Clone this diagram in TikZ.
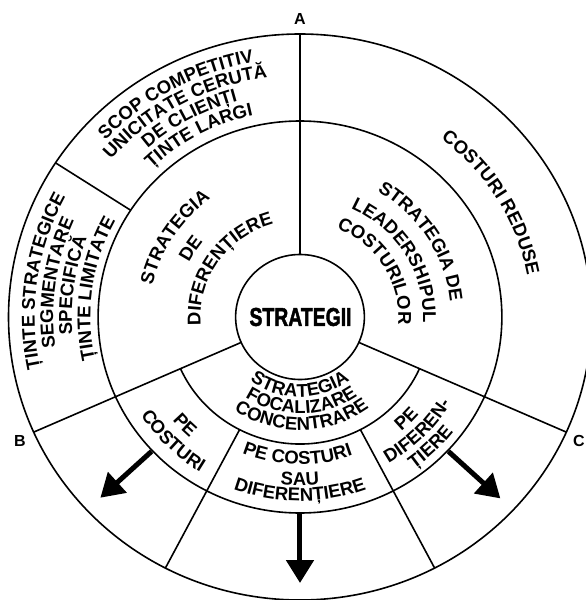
\documentclass[tikz,border=0pt]{standalone}
\usepackage{fontspec}
\usepackage{graphicx}
\setmainfont{Liberation Sans}
\newfontfamily\arcfont{Liberation Sans Bold}
\newfontfamily\heavyfont{Liberation Sans Bold}[FakeBold=2]
\usetikzlibrary{decorations.text,arrows.meta}
\newcommand\lbl{\arcfont\fontsize{18.5}{18.5}\selectfont}
\tikzset{
  ring/.style={line width=1.6pt},
  divider/.style={line width=1.6pt},
  bigarrow/.style={line width=5pt,-{Triangle[length=23pt,width=27pt]}},
  corner/.style={font=\fontsize{16}{16}\selectfont\bfseries,inner sep=0pt},
}
% text on a concentric arc, read clockwise (letter tops outward)
\newcommand\cwline[3]{\path[decorate,decoration={text along path,text align=center,text={|\lbl|#3}}]
  ({#1+70}:#2) arc[start angle={#1+70},end angle={#1-70},radius=#2];}
% text on a concentric arc, read counter-clockwise (letter tops inward)
\newcommand\ccwline[3]{\path[decorate,decoration={text along path,text align=center,text={|\lbl|#3}}]
  ({#1-70}:#2) arc[start angle={#1-70},end angle={#1+70},radius=#2];}
\begin{document}
\begin{tikzpicture}[x=1.03pt,y=1pt]
\fill[white] (-300pt,-283pt) rectangle (286pt,317pt);
\useasboundingbox (-300pt,-283pt) rectangle (286pt,317pt);

% radii: outer 283, middle 196, focus ring 127, core 62.5
\coordinate (O) at (0,0);
\draw[ring] (O) circle[radius=283];
\draw[ring] (O) circle[radius=196];
\draw[ring] (O) circle[radius=62.5];
\draw[ring] (204:127) arc[start angle=204,end angle=336,radius=127];

% radial dividers
\coordinate (a0) at (90:62.5);   \coordinate (a1) at (90:283);
\coordinate (b0) at (204:62.5);  \coordinate (b1) at (204:283);
\coordinate (c0) at (336:62.5);  \coordinate (c1) at (336:283);
\coordinate (d0) at (147:196);   \coordinate (d1) at (147:283);
\coordinate (e0) at (242.5:127); \coordinate (e1) at (242.5:283);
\coordinate (f0) at (297.5:127); \coordinate (f1) at (297.5:283);
\draw[divider] (a0) -- (a1);
\draw[divider] (b0) -- (b1);
\draw[divider] (c0) -- (c1);
\draw[divider] (d0) -- (d1);
\draw[divider] (e0) -- (e1);
\draw[divider] (f0) -- (f1);

% arrows leaving the focus sectors
\coordinate (p0) at (223:197); \coordinate (p1) at (223:265);
\coordinate (q0) at (270:196); \coordinate (q1) at (270:266);
\coordinate (r0) at (317:197); \coordinate (r1) at (317:266);
\draw[bigarrow] (p0) -- (p1);
\draw[bigarrow] (q0) -- (q1);
\draw[bigarrow] (r0) -- (r1);

% centre
\node[inner sep=0pt] (core) at (0.5,0) {\resizebox{102pt}{18pt}{\heavyfont STRATEGII}};

% corner letters
\node[corner] (A) at (0pt,298pt) {A};
\node[corner] (B) at (-280pt,-124pt) {B};
\node[corner] (C) at (279pt,-124pt) {C};

% cost leadership
\cwline{32}{146.5}{STRATEGIA DE}
\cwline{31}{119.5}{LEADERSHIPUL}
\cwline{31.5}{95.5}{COSTURILOR}
\cwline{31}{224.5}{COSTURI REDUSE}
% differentiation
\cwline{147.5}{146.5}{STRATEGIA}
\cwline{148}{120.5}{DE}
\cwline{145.5}{96.5}{DIFERENȚIERE}
\cwline{119}{258.5}{SCOP COMPETITIV}
\cwline{119}{241.5}{UNICITATE CERUTĂ}
\cwline{119}{224.5}{DE CLIENȚI}
\cwline{119}{206.5}{ȚINTE LARGI}
% narrow targets
\cwline{172}{257.5}{ȚINTE STRATEGICE}
\cwline{172}{239.5}{SEGMENTARE}
\cwline{172}{221.5}{SPECIFICĂ}
\cwline{172}{203.5}{ȚINTE LIMITATE}
% focus strategy
\ccwline{270}{80}{STRATEGIA}
\ccwline{271}{96.5}{FOCALIZARE}
\ccwline{271}{113}{CONCENTRARE}
\ccwline{223.5}{161.5}{PE}
\ccwline{224.5}{183}{COSTURI}
\ccwline{269}{147.5}{PE COSTURI}
\ccwline{270}{168.5}{SAU}
\ccwline{270}{184}{DIFERENȚIERE}
\ccwline{316}{151}{PE}
\ccwline{315.6}{170}{DIFEREN-}
\ccwline{315}{188}{ȚIERE}
\end{tikzpicture}
\end{document}
